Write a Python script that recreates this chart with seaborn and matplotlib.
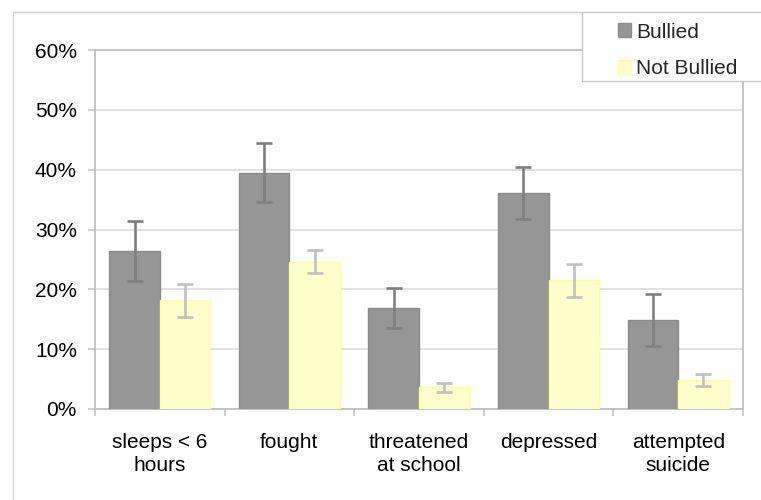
import matplotlib
matplotlib.use("Agg")
import matplotlib.pyplot as plt
import seaborn as sns
import pandas as pd
from matplotlib.ticker import PercentFormatter, FixedLocator
from matplotlib.patches import Patch, Rectangle
from matplotlib.lines import Line2D

categories = ["sleeps < 6\nhours", "fought", "threatened\nat school", "depressed", "attempted\nsuicide"]
groups = ["Bullied", "Not Bullied"]
bullied = [26.4, 39.5, 16.9, 36.1, 14.9]
bullied_err = [5.0, 4.9, 3.4, 4.3, 4.35]
not_bullied = [18.2, 24.6, 3.6, 21.5, 4.85]
not_bullied_err = [2.75, 1.9, 0.8, 2.7, 1.0]

sns.set_theme(style="white")
plt.rcParams['font.family'] = ['Liberation Sans', 'DejaVu Sans']

df = pd.DataFrame({
    "category": categories * 2,
    "group": [groups[0]] * 5 + [groups[1]] * 5,
    "value": bullied + not_bullied,
})

W, H = 761, 500
fig = plt.figure(figsize=(W / 100, H / 100), dpi=100)
ax = fig.add_axes([95 / W, 1 - 409 / H, (743 - 95) / W, (409 - 50) / H])

face = {"Bullied": "#969696", "Not Bullied": "#ffffcc"}
edge = {"Bullied": "#8c8c8c", "Not Bullied": "#ffff99"}
sns.barplot(data=df, x="category", y="value", hue="group", order=categories,
            hue_order=groups, palette=face, saturation=1, width=0.78, gap=0,
            errorbar=None, legend=False, ax=ax, zorder=3)

errs = {"Bullied": (bullied, bullied_err, "#7f7f7f"),
        "Not Bullied": (not_bullied, not_bullied_err, "#c0c0c0")}
for cont, g in zip(ax.containers, groups):
    vals, es, col = errs[g]
    xs = []
    for p in cont.patches:
        p.set_edgecolor(edge[g])
        p.set_linewidth(1.0)
        xs.append(p.get_x() + p.get_width() / 2)
    ax.errorbar(xs, vals, yerr=es, fmt="none", ecolor=col, elinewidth=1.9,
                capsize=5.8, capthick=1.9, zorder=4)

ax.set_xlim(-0.5, len(categories) - 0.5)
ax.set_ylim(0, 60)
ax.yaxis.set_major_locator(FixedLocator([0, 10, 20, 30, 40, 50, 60]))
ax.yaxis.set_major_formatter(PercentFormatter(xmax=100, decimals=0))
ax.grid(axis="y", color="#d9d9d9", linewidth=1.1, zorder=0)
ax.set_axisbelow(True)
ax.set_xlabel("")
ax.set_ylabel("")

for s in ax.spines.values():
    s.set_color("#c0c0c0")
    s.set_linewidth(1.3)
    s.set_visible(True)

ax.tick_params(axis="y", which="major", length=5, width=1.1, color="#c0c0c0",
               direction="out", left=True, pad=8, labelsize=15, labelcolor="black")
ax.tick_params(axis="x", which="major", length=0, pad=17, labelsize=15, labelcolor="black")
ax.set_xticks([i - 0.5 for i in range(len(categories) + 1)], minor=True)
ax.tick_params(axis="x", which="minor", length=5, width=1.1, color="#c0c0c0",
               direction="out", bottom=True)
for t in ax.get_xticklabels():
    t.set_linespacing(1.3)
    t.set_ha("center")

# outer chart border
fig.add_artist(Line2D([13 / W, 582 / W], [1 - 12 / H, 1 - 12 / H], color="#d0d0d0", lw=1.0))
fig.add_artist(Line2D([13 / W, 13 / W], [1 - 12 / H, -0.02], color="#d0d0d0", lw=1.0))

# legend box
fig.add_artist(Rectangle((582 / W, 1 - 81 / H), (800 - 582) / W, (81 - 12) / H,
                         transform=fig.transFigure, facecolor="white",
                         edgecolor="#c8c8c8", lw=1.0, zorder=5))
handles = [Patch(facecolor=face[g], edgecolor=edge[g], label=g) for g in groups]
leg = fig.legend(handles=handles, loc="upper left",
                 bbox_to_anchor=(601 / W, 1 - 6 / H), frameon=False,
                 fontsize=15, handlelength=0.65, handleheight=0.65,
                 handletextpad=0.25, labelspacing=0.85, borderpad=0.3)
leg.set_zorder(6)

fig.savefig("out.png", dpi=100)
